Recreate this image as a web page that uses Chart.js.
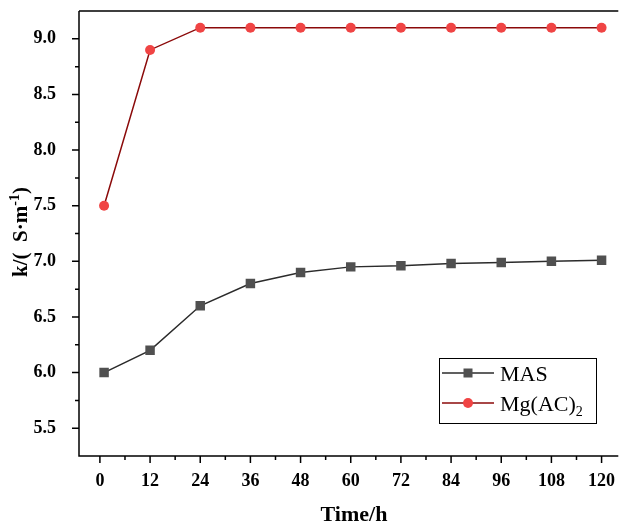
<!DOCTYPE html>
<html>
<head>
<meta charset="utf-8">
<script src="https://cdn.jsdelivr.net/npm/chart.js@4/dist/chart.umd.min.js"></script>
<style>
  html, body { margin: 0; padding: 0; background: #fff; }
  #wrap { width: 625px; height: 524px; }
</style>
</head>
<body>
<div id="wrap"><canvas id="kChart" width="625" height="524"></canvas></div>
<script>
const hours = [1, 12, 24, 36, 48, 60, 72, 84, 96, 108, 120];
const masValues = [6.0, 6.2, 6.6, 6.8, 6.9, 6.95, 6.96, 6.98, 6.99, 7.0, 7.01];
const mgValues = [7.5, 8.9, 9.1, 9.1, 9.1, 9.1, 9.1, 9.1, 9.1, 9.1, 9.1];
const xTicks = [0, 12, 24, 36, 48, 60, 72, 84, 96, 108, 120];
const yTicks = [5.5, 6.0, 6.5, 7.0, 7.5, 8.0, 8.5, 9.0];

const SERIF = "'Liberation Serif', 'Times New Roman', serif";

const axesPlugin = {
    id: 'axesPlugin',
    afterDraw(chart) {
        const ctx = chart.ctx;
        const area = chart.chartArea;
        const xs = chart.scales.x;
        const ys = chart.scales.y;
        ctx.save();
        ctx.strokeStyle = '#000';
        ctx.lineWidth = 1.5;
        // frame: left, bottom, top (right side is cut off)
        ctx.beginPath();
        ctx.moveTo(area.left, area.top);
        ctx.lineTo(area.left, area.bottom);
        ctx.lineTo(area.right, area.bottom);
        ctx.moveTo(area.left, area.top);
        ctx.lineTo(area.right, area.top);
        ctx.stroke();

        // x ticks (major + minor), outward
        ctx.beginPath();
        for (let v = 0; v <= 120; v += 6) {
            const px = xs.getPixelForValue(v);
            const len = (v % 12 === 0) ? 7 : 4;
            ctx.moveTo(px, area.bottom);
            ctx.lineTo(px, area.bottom + len);
        }
        // y ticks
        for (let i = 0; i <= 14; i++) {
            const v = 5.5 + i * 0.25;
            const py = ys.getPixelForValue(v);
            const len = (i % 2 === 0) ? 7 : 4;
            ctx.moveTo(area.left, py);
            ctx.lineTo(area.left - len, py);
        }
        ctx.stroke();

        // x title
        ctx.fillStyle = '#000';
        ctx.font = 'bold 22px ' + SERIF;
        ctx.textAlign = 'center';
        ctx.textBaseline = 'alphabetic';
        ctx.fillText('Time/h', 354, 521);

        // y title with superscript
        ctx.translate(22, 232);
        ctx.rotate(-Math.PI / 2);
        ctx.textAlign = 'left';
        ctx.textBaseline = 'middle';
        const main = 'k/(  S·m';
        const sup = '-1';
        const tail = ')';
        ctx.font = 'bold 21px ' + SERIF;
        const wMain = ctx.measureText(main).width;
        const wTail = ctx.measureText(tail).width;
        ctx.font = 'bold 14px ' + SERIF;
        const wSup = ctx.measureText(sup).width;
        const total = wMain + wSup + wTail;
        const x0 = -total / 2;
        ctx.font = 'bold 21px ' + SERIF;
        ctx.fillText(main, x0, 0);
        ctx.font = 'bold 14px ' + SERIF;
        ctx.fillText(sup, x0 + wMain, -7);
        ctx.font = 'bold 21px ' + SERIF;
        ctx.fillText(tail, x0 + wMain + wSup, 0);
        ctx.restore();
    }
};

const legendPlugin = {
    id: 'boxLegend',
    afterDraw(chart) {
        const ctx = chart.ctx;
        const left = 439, top = 358, w = 157, h = 65;
        ctx.save();
        ctx.fillStyle = '#fff';
        ctx.fillRect(left, top, w, h);
        ctx.strokeStyle = '#000';
        ctx.lineWidth = 1;
        ctx.strokeRect(left + 0.5, top + 0.5, w, h);

        const rows = [
            { ds: chart.data.datasets[0], y: 373 },
            { ds: chart.data.datasets[1], y: 403 }
        ];
        rows.forEach(r => {
            ctx.strokeStyle = r.ds.borderColor;
            ctx.lineWidth = 1.5;
            ctx.beginPath();
            ctx.moveTo(442, r.y);
            ctx.lineTo(494, r.y);
            ctx.stroke();
            ctx.fillStyle = r.ds.pointBackgroundColor;
            if (r.ds.pointStyle === 'rect') {
                ctx.fillRect(468 - 4.5, r.y - 4.5, 9, 9);
            } else {
                ctx.beginPath();
                ctx.arc(468, r.y, 5, 0, Math.PI * 2);
                ctx.fill();
            }
        });

        ctx.fillStyle = '#000';
        ctx.textAlign = 'left';
        ctx.textBaseline = 'alphabetic';
        ctx.font = '22px ' + SERIF;
        ctx.fillText('MAS', 500, 381);
        const base = 'Mg(AC)';
        ctx.fillText(base, 500, 411);
        const wb = ctx.measureText(base).width;
        ctx.font = '14px ' + SERIF;
        ctx.fillText('2', 500 + wb, 416);
        ctx.restore();
    }
};

const ctx = document.getElementById('kChart').getContext('2d');
const kChart = new Chart(ctx, {
    type: 'line',
    data: {
        datasets: [{
            label: 'MAS',
            data: hours.map((h, i) => ({ x: h, y: masValues[i] })),
            borderColor: '#2b2b2b',
            borderWidth: 1.5,
            pointStyle: 'rect',
            pointRadius: 6.7,
            pointBackgroundColor: '#505050',
            pointBorderWidth: 0,
            fill: false
        }, {
            label: 'Mg(AC)2',
            data: hours.map((h, i) => ({ x: h, y: mgValues[i] })),
            borderColor: '#8b0a0a',
            borderWidth: 1.5,
            pointStyle: 'circle',
            pointRadius: 5,
            pointBackgroundColor: '#f04444',
            pointBorderWidth: 0,
            fill: false
        }]
    },
    options: {
        responsive: false,
        animation: false,
        layout: { padding: { top: 11, right: 0, left: 0, bottom: 0 } },
        plugins: {
            legend: { display: false },
            tooltip: { enabled: false }
        },
        scales: {
            x: {
                type: 'linear',
                min: -5,
                max: 124,
                grid: { display: false },
                border: { display: false },
                afterBuildTicks: s => { s.ticks = xTicks.map(v => ({ value: v })); },
                afterFit: s => { s.height = 68; s.paddingLeft = 0; s.paddingRight = 0; },
                ticks: {
                    color: '#000',
                    font: { family: SERIF, size: 18, weight: 'bold' },
                    padding: 7,
                    maxRotation: 0,
                    autoSkip: false
                }
            },
            y: {
                min: 5.25,
                max: 9.25,
                grid: { display: false },
                border: { display: false },
                afterBuildTicks: s => { s.ticks = yTicks.map(v => ({ value: v })); },
                afterFit: s => { s.width = 79; s.paddingTop = 0; s.paddingBottom = 0; },
                ticks: {
                    color: '#000',
                    font: { family: SERIF, size: 18, weight: 'bold' },
                    padding: 15,
                    callback: v => v.toFixed(1)
                }
            }
        }
    },
    plugins: [axesPlugin, legendPlugin]
});
</script>
</body>
</html>
